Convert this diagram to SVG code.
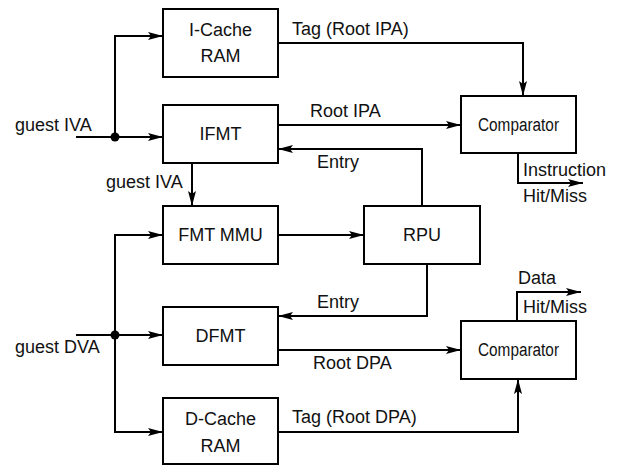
<svg xmlns="http://www.w3.org/2000/svg" width="618" height="466" viewBox="0 0 618 466">
<defs>
<marker id="arr" markerUnits="userSpaceOnUse" markerWidth="15" markerHeight="8" viewBox="0 0 15 8" refX="15" refY="4" orient="auto">
<path d="M0,0 L15,4 L0,8 L3,4 z" fill="#000"/>
</marker>
<style>
.box{fill:#fff;stroke:#000;stroke-width:2}
.c{fill:none;stroke:#000;stroke-width:2;marker-end:url(#arr)}
.l{fill:none;stroke:#000;stroke-width:2}
text{font-family:"Liberation Sans",Arial,sans-serif;font-size:18px;fill:#111}
.m{text-anchor:middle}
</style>
</defs>
<rect width="618" height="466" fill="#fff"/>
<g id="icache"><rect class="box" x="163" y="9" width="115" height="68"/><text class="m" x="220.5" y="36">I-Cache</text><text class="m" x="220.5" y="62">RAM</text></g>
<g id="ifmt"><rect class="box" x="163" y="105" width="115" height="58"/><text class="m" x="220.5" y="140">IFMT</text></g>
<g id="fmtmmu"><rect class="box" x="163" y="206" width="115" height="58"/><text class="m" x="220.5" y="241">FMT MMU</text></g>
<g id="dfmt"><rect class="box" x="163" y="307" width="115" height="58"/><text class="m" x="220.5" y="342">DFMT</text></g>
<g id="dcache"><rect class="box" x="163" y="398" width="115" height="66"/><text class="m" x="220.5" y="425">D-Cache</text><text class="m" x="220.5" y="452">RAM</text></g>
<g id="rpu"><rect class="box" x="364" y="206" width="116" height="58"/><text class="m" x="422" y="241">RPU</text></g>
<g id="comp1"><rect class="box" x="461" y="96" width="115" height="57"/><text class="m" x="518.5" y="131" textLength="81" lengthAdjust="spacingAndGlyphs">Comparator</text></g>
<g id="comp2"><rect class="box" x="461" y="321" width="115" height="58"/><text class="m" x="518.5" y="356" textLength="81" lengthAdjust="spacingAndGlyphs">Comparator</text></g>
<g id="connectors">
<path class="l" d="M76,137 H115"/>
<path class="c" d="M115,137 H163"/>
<path class="c" d="M115,137 V36 H163"/>
<circle cx="115" cy="137" r="4.5"/>
<path class="c" d="M278,43 H523 V96"/>
<path class="c" d="M278,125 H461"/>
<path class="c" d="M422,206 V149 H278"/>
<path class="c" d="M518,153 V183 H583"/>
<path class="c" d="M192,163 V206"/>
<path class="c" d="M278,235 H364"/>
<path class="c" d="M427,264 V316 H278"/>
<path class="c" d="M278,350 H461"/>
<path class="c" d="M517,321 V292 H581"/>
<path class="c" d="M278,432 H518 V379"/>
<path class="l" d="M76,335 H115"/>
<path class="c" d="M115,335 H163"/>
<path class="c" d="M115,335 V235 H163"/>
<path class="c" d="M115,335 V432 H163"/>
<circle cx="115" cy="335" r="4.5"/>
</g>
<g id="labels">
<text x="15" y="131">guest IVA</text>
<text x="292" y="35">Tag (Root IPA)</text>
<text x="310" y="117">Root IPA</text>
<text x="317" y="168">Entry</text>
<text x="523" y="176">Instruction</text>
<text x="523" y="202">Hit/Miss</text>
<text x="106" y="188">guest IVA</text>
<text x="317" y="308">Entry</text>
<text x="518" y="284">Data</text>
<text x="523" y="313">Hit/Miss</text>
<text x="313" y="369">Root DPA</text>
<text x="15" y="353">guest DVA</text>
<text x="292" y="423">Tag (Root DPA)</text>
</g>
</svg>
